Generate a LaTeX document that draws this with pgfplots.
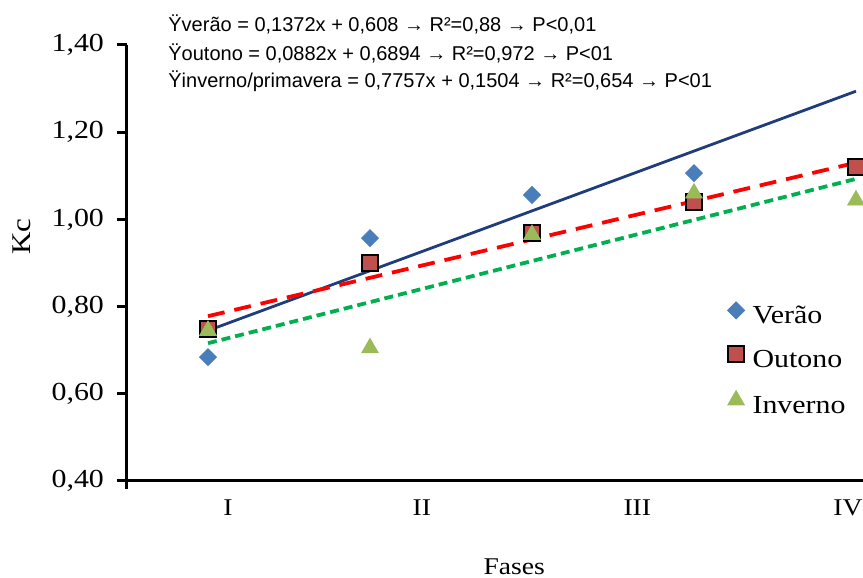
\documentclass[border=0pt]{standalone}
\usepackage{fontspec}
\setmainfont{Liberation Serif}[FakeStretch=1.15]
\newfontfamily\eqfont{Liberation Sans}
\usepackage{pgfplots}
\pgfplotsset{compat=1.18}

\definecolor{veraoLine}{HTML}{1F3D7A}
\definecolor{veraoMark}{HTML}{4A7EBB}
\definecolor{outonoMark}{HTML}{C0504D}
\definecolor{invernoMark}{HTML}{9BBB59}
\definecolor{invernoLine}{HTML}{00B050}

\begin{document}
\begin{tikzpicture}
\useasboundingbox (0,0) rectangle (431.5pt,289pt);
\clip (0,0) rectangle (431.5pt,289pt);

% regression equations above the plot
\node[anchor=base west, font=\eqfont\fontsize{10}{11}\selectfont, inner sep=0pt] at (84pt,273pt) {Ÿverão = 0,1372x + 0,608 → R²=0,88 → P<0,01};
\node[anchor=base west, font=\eqfont\fontsize{10}{11}\selectfont, inner sep=0pt] at (84pt,258.5pt) {Ÿoutono = 0,0882x + 0,6894 → R²=0,972 → P<01};
\node[anchor=base west, font=\eqfont\fontsize{10}{11}\selectfont, inner sep=0pt] at (84pt,245pt) {Ÿinverno/primavera = 0,7757x + 0,1504 → R²=0,654 → P<01};

\begin{axis}[
    at={(63.5pt,48.5pt)}, anchor=south west,
    scale only axis, width=405pt, height=218pt,
    xmin=0.5, xmax=5.5, ymin=0.4, ymax=1.4,
    axis lines*=left,
    axis line style={line width=1.5pt, black},
    x axis line style={shorten <=-5pt},
    y axis line style={shorten <=-4pt},
    xtick=\empty,
    extra x ticks={1.123,2.32,3.65,4.95},
    extra x tick labels={I,II,III,IV},
    extra x tick style={major tick length=0pt, tick style={draw=none}},
    x tick label style={font=\fontsize{12}{14}\selectfont, yshift=-6pt},
    ytick={0.4,0.6,0.8,1.0,1.2,1.4},
    yticklabels={{0,40},{0,60},{0,80},{1,00},{1,20},{1,40}},
    y tick label style={font=\fontsize{13}{15}\selectfont, xshift=-3pt},
    tick align=outside,
    major tick length=5pt,
    tick style={line width=1.5pt, black},
    ylabel={Kc},
    ylabel style={at={(axis description cs:-0.1296,0.56)}, anchor=center, font=\fontsize{13.5}{15}\selectfont},
    xlabel={Fases},
    xlabel style={at={(axis description cs:0.478,-0.197)}, anchor=center, font=\fontsize{12}{14}\selectfont},
    legend style={at={(axis description cs:0.741,0.4117)}, anchor=north west,
        draw=none, fill=none, inner sep=0pt, row sep=8.3pt,
        font=\fontsize{13}{15}\selectfont,
        nodes={inner sep=1pt, text height=8.5pt, text depth=2pt},
        /tikz/every odd column/.append style={column sep=3pt}},
    legend cell align=left,
    legend image code/.code={\draw[#1] plot coordinates {(0pt,3.5pt)};},
]
% legend entries in the original order
\addlegendimage{only marks, mark=square*, mark size=3pt, mark options={rotate=45, fill=veraoMark, draw=veraoMark}}
\addlegendentry{Verão}
\addlegendimage{only marks, mark=square*, mark size=4pt, mark options={fill=outonoMark, draw=black, line width=1pt}}
\addlegendentry{Outono}
\addlegendimage{only marks, mark=triangle*, mark size=4.8pt, mark options={fill=invernoMark, draw=invernoMark}}
\addlegendentry{Inverno}

% Outono
\addplot[forget plot, only marks, mark=square*, mark size=4pt, mark options={fill=outonoMark, draw=black, line width=1pt}]
    coordinates {(1,0.749) (2,0.900) (3,0.969) (4,1.040) (5,1.120)};
% Inverno
\addplot[forget plot, only marks, mark=triangle*, mark size=4.8pt, mark options={fill=invernoMark, draw=invernoMark}]
    coordinates {(1,0.745) (2,0.705) (3,0.965) (4,1.060) (5,1.044)};
% Verao
\addplot[forget plot, only marks, mark=square*, mark size=3pt, mark options={rotate=45, fill=veraoMark, draw=veraoMark}]
    coordinates {(1,0.684) (2,0.957) (3,1.056) (4,1.106)};

% trend lines
\addplot[forget plot, no marks, veraoLine, line width=1.4pt] coordinates {(1,0.745) (5,1.294)};
\addplot[forget plot, no marks, red, line width=1.9pt, dash pattern=on 8.5pt off 5pt] coordinates {(1,0.778) (5,1.130)};
\addplot[forget plot, no marks, invernoLine, line width=1.9pt, dash pattern=on 4.5pt off 2.5pt] coordinates {(1,0.716) (5,1.093)};
\end{axis}
\end{tikzpicture}
\end{document}
